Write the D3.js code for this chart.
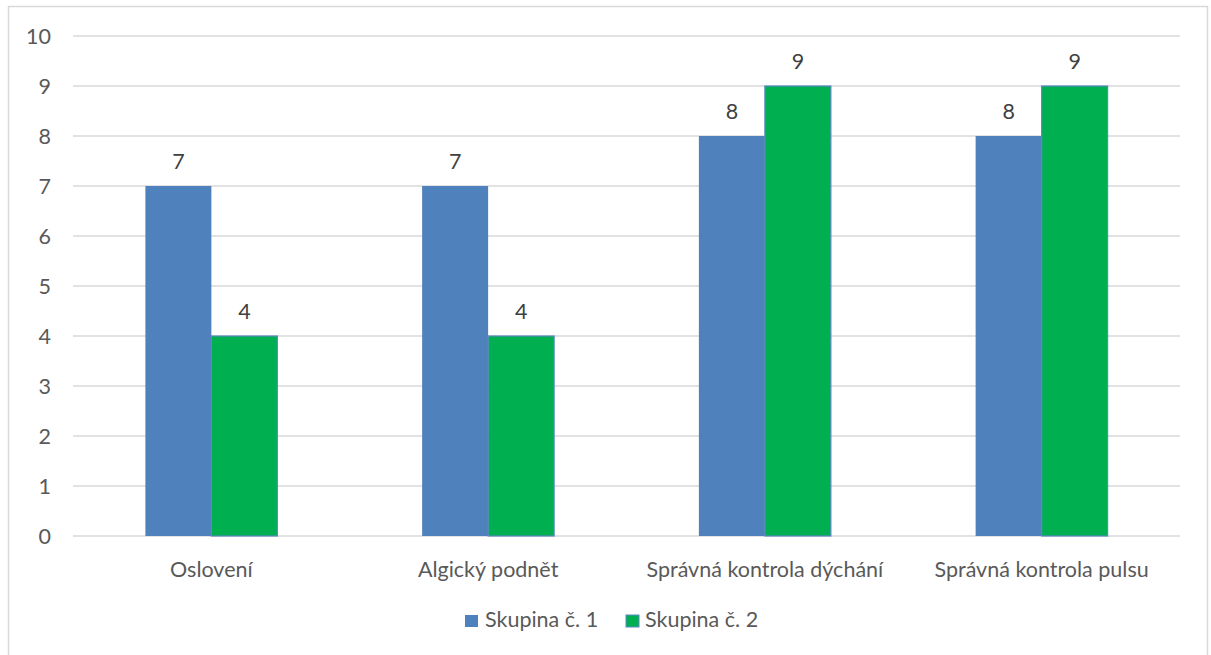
<!DOCTYPE html>
<html>
<head>
<meta charset="utf-8">
<script src="https://cdn.jsdelivr.net/npm/d3@7"></script>
<style>
  html, body { margin: 0; padding: 0; background: #fff; }
  svg { display: block; }
  text { font-family: Lato, "Noto Sans", sans-serif; fill: #595959; }
</style>
</head>
<body>
<svg id="chart" width="1211" height="655"></svg>
<script>
const categories = ["Oslovení", "Algický podnět", "Správná kontrola dýchání", "Správná kontrola pulsu"];
const seriesNames = ["Skupina č. 1", "Skupina č. 2"];
const group1 = [7, 7, 8, 8];
const group2 = [4, 4, 9, 9];
const yTicks = [0, 1, 2, 3, 4, 5, 6, 7, 8, 9, 10];
const colors = ["#4f81bd", "#00b050"];

const svg = d3.select("#chart");
const plot = { left: 73, right: 1180, top: 36, bottom: 536 };
const FS = 21.5;

// chart frame
svg.append("rect")
  .attr("x", 8.5).attr("y", 6.5)
  .attr("width", 1199).attr("height", 660)
  .attr("fill", "#fff").attr("stroke", "#d9d9d9").attr("stroke-width", 1.5);

const x0 = d3.scaleBand().domain(categories).range([plot.left, plot.right]).paddingInner(0).paddingOuter(0);
const x1 = d3.scaleBand().domain([0, 1]).range([0, 132]);
const y = d3.scaleLinear().domain([0, 10]).range([plot.bottom, plot.top]);

// horizontal gridlines
svg.append("g")
  .selectAll("line").data(yTicks).join("line")
  .attr("x1", plot.left).attr("x2", plot.right)
  .attr("y1", d => y(d)).attr("y2", d => y(d))
  .attr("stroke", "#d9d9d9").attr("stroke-width", 1.3);

// y axis labels
const yAxis = d3.axisLeft(y).tickValues(yTicks).tickSize(0).tickPadding(0);
const gy = svg.append("g").attr("transform", `translate(51,0)`).call(yAxis);
gy.select(".domain").remove();
gy.selectAll("text").attr("font-size", FS).attr("dy", "0.36em")
  .style("font-family", "Lato, sans-serif").attr("fill", "#595959");

// bars
const data = categories.map((c, i) => ({ cat: c, values: [group1[i], group2[i]] }));
const groups = svg.append("g").selectAll("g").data(data).join("g")
  .attr("transform", d => `translate(${x0(d.cat) + x0.bandwidth() / 2 - 66},0)`);

groups.selectAll("rect").data(d => d.values.map((v, k) => ({ v, k }))).join("rect")
  .attr("x", d => x1(d.k))
  .attr("y", d => y(d.v))
  .attr("width", x1.bandwidth())
  .attr("height", d => y(0) - y(d.v))
  .attr("fill", d => colors[d.k])
  .attr("stroke", d => d.k === 1 ? "#5b88c4" : "none")
  .attr("stroke-width", 1.2);

// value labels
groups.selectAll("text.val").data(d => d.values.map((v, k) => ({ v, k }))).join("text")
  .attr("class", "val")
  .attr("x", d => x1(d.k) + x1.bandwidth() / 2)
  .attr("y", d => y(d.v) - 17)
  .attr("text-anchor", "middle")
  .attr("font-size", FS)
  .style("fill", "#404040")
  .text(d => d.v);

// category axis
const xAxis = d3.axisBottom(x0).tickSize(0).tickPadding(0);
const gx = svg.append("g").attr("transform", `translate(0,${plot.bottom + 41})`).call(xAxis);
gx.select(".domain").remove();
gx.selectAll("text").attr("dy", 0).attr("font-size", FS)
  .style("font-family", "Lato, sans-serif").attr("fill", "#595959");

// legend
const legendItems = [{ x: 465, tx: 485 }, { x: 626, tx: 645 }];
const lg = svg.append("g").selectAll("g").data(seriesNames).join("g");
lg.append("rect")
  .attr("x", (d, i) => legendItems[i].x).attr("y", 615)
  .attr("width", 13).attr("height", 12)
  .attr("fill", (d, i) => colors[i])
  .attr("stroke", (d, i) => i === 1 ? "#5b88c4" : "none");
lg.append("text")
  .attr("x", (d, i) => legendItems[i].tx).attr("y", 627)
  .attr("font-size", FS)
  .text(d => d);
</script>
</body>
</html>
